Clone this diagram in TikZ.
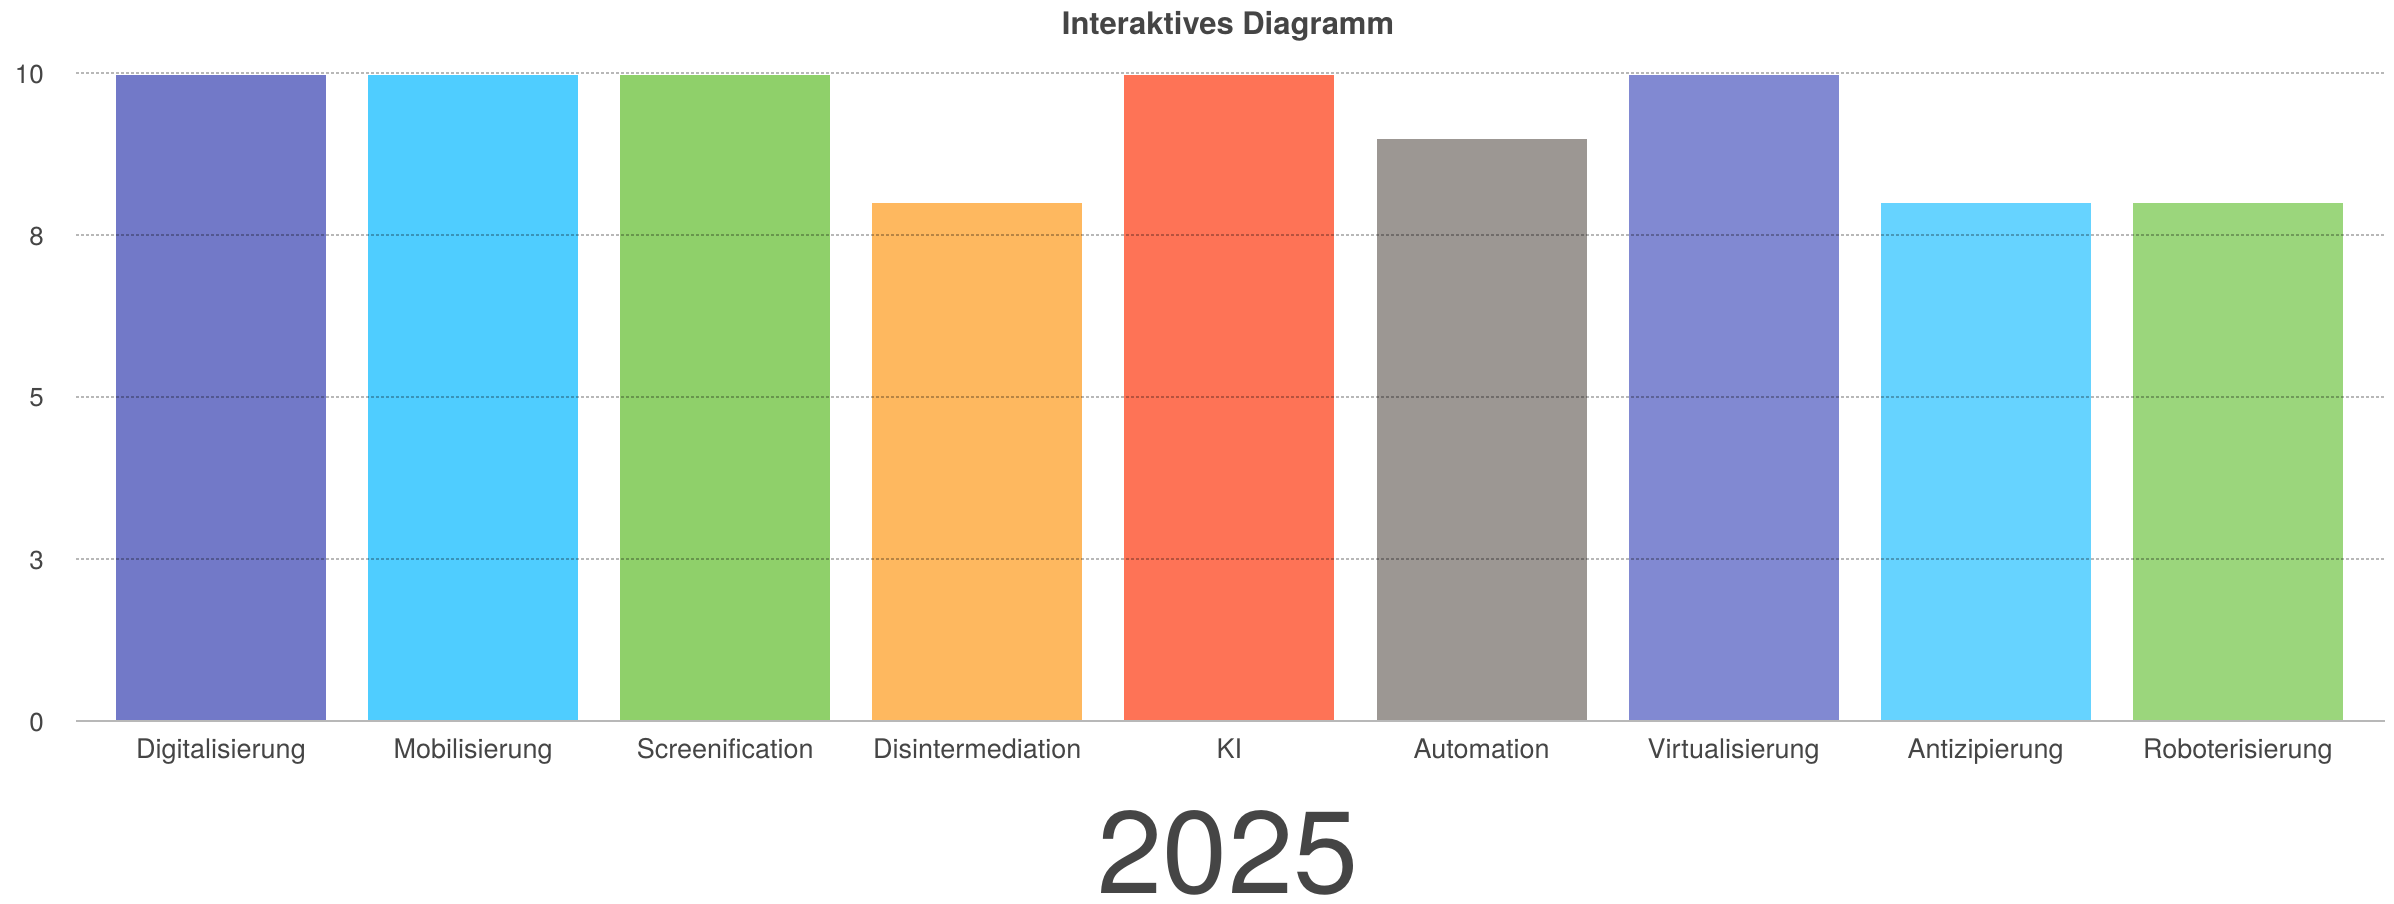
\documentclass[tikz,border=0pt]{standalone}
\usepackage{fontspec}
\setmainfont{TeX Gyre Heros}
\definecolor{txt}{HTML}{454545}
\definecolor{cA}{HTML}{7279C8}
\definecolor{cB}{HTML}{4FCDFF}
\definecolor{cC}{HTML}{8FD06A}
\definecolor{cD}{HTML}{FEB85F}
\definecolor{cE}{HTML}{FE7356}
\definecolor{cF}{HTML}{9C9793}
\definecolor{cG}{HTML}{8189D2}
\definecolor{cH}{HTML}{66D3FF}
\definecolor{cI}{HTML}{9BD67C}
\begin{document}
\begin{tikzpicture}[x=1pt,y=-1pt,
  barbox/.style={draw=none,inner sep=0pt,outer sep=0pt,minimum width=210pt,anchor=south west},
  grid/.style={draw=black,opacity=0.28,line width=1.1pt,dash pattern=on 2.5pt off 2.5pt},
  base/.style={draw=black!28,line width=2pt},
  ylab/.style={anchor=east,inner sep=0pt,text=txt,font=\fontsize{26}{30}\selectfont},
  xlab/.style={anchor=base,inner sep=0pt,text=txt,font=\fontsize{27}{32}\selectfont}]
\useasboundingbox (0,0) rectangle (2394,904);
% bars
\foreach \i/\c/\h/\n in {0/cA/646/Digitalisierung,1/cB/646/Mobilisierung,2/cC/646/Screenification,3/cD/518/Disintermediation,4/cE/646/KI,5/cF/582/Automation,6/cG/646/Virtualisierung,7/cH/518/Antizipierung,8/cI/518/Roboterisierung}{
  \node[barbox,fill=\c,minimum height=\h pt] (bar\i) at ({116+252.1*\i},721) {};
  \node[xlab] (lab\i) at ({221+252.1*\i},758) {\n};
}
% grid
\coordinate (gl0) at (76,721); \coordinate (gr0) at (2385,721);
\foreach \k/\y in {1/559,2/397,3/235,4/73}{
  \coordinate (gl\k) at (76,\y); \coordinate (gr\k) at (2385,\y);
  \draw[grid] (gl\k) -- (gr\k);
}
\draw[base] (gl0) -- (gr0);
\node[ylab] (y0) at (44,722) {0};
\node[ylab] (y1) at (44,560) {3};
\node[ylab] (y2) at (44,398) {5};
\node[ylab] (y3) at (44,236) {8};
\node[ylab] (y4) at (44,74) {10};
\node[anchor=base,inner sep=0pt,text=txt,font=\fontsize{31}{36}\selectfont\bfseries] (title) at (1228,35) {Interaktives Diagramm};
\node[anchor=base,inner sep=0pt,text=txt,font=\fontsize{117}{126}\selectfont] (year) at (1228,893) {2025};
\end{tikzpicture}
\end{document}
